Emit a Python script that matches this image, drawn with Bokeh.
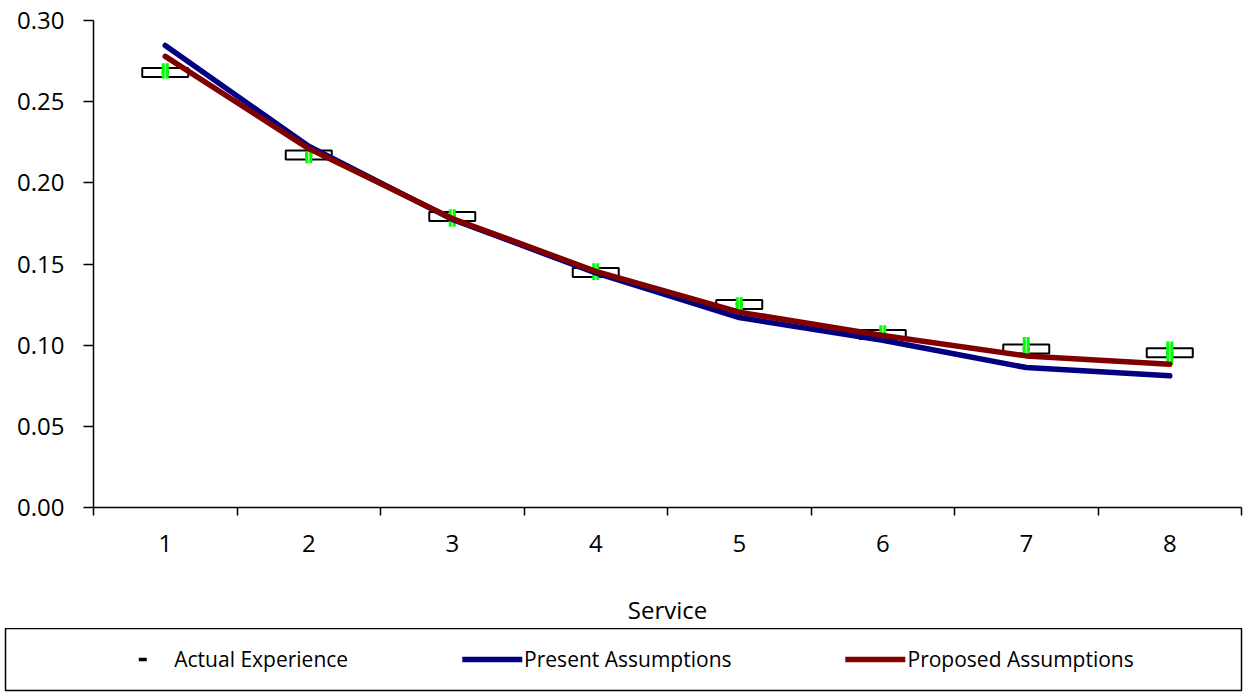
from bokeh.plotting import figure
from bokeh.models import (FixedTicker, NumeralTickFormatter, Range1d, Legend,
                          LegendItem, ColumnDataSource)
from bokeh.embed import file_html
from bokeh.resources import INLINE

# Service year and the three rate series
service = [1, 2, 3, 4, 5, 6, 7, 8]
actual = [0.268, 0.2172, 0.1793, 0.1447, 0.1251, 0.1065, 0.0977, 0.0953]
actual_low = [0.2643, 0.2120, 0.1730, 0.1402, 0.1215, 0.1020, 0.0945, 0.0879]
actual_high = [0.2736, 0.2190, 0.1838, 0.1504, 0.1295, 0.1123, 0.1050, 0.1022]
present = [0.2846, 0.2225, 0.1775, 0.1445, 0.1170, 0.1030, 0.0862, 0.0811]
proposed = [0.2779, 0.2211, 0.1780, 0.1455, 0.1203, 0.1060, 0.0934, 0.0882]
y_ticks = [0.0, 0.05, 0.10, 0.15, 0.20, 0.25, 0.30]

FONT = "Open Sans"
NAVY = "#000080"
MAROON = "#800000"

src = ColumnDataSource(dict(
    x=service,
    actual=actual,
    mid=[(a + b) / 2 for a, b in zip(actual_low, actual_high)],
    span=[b - a for a, b in zip(actual_low, actual_high)],
    present=present,
    proposed=proposed,
))

p = figure(width=1246, height=628, output_backend="svg", toolbar_location=None,
           x_range=Range1d(0.5, 8.5), y_range=Range1d(0, 0.30),
           min_border_left=93, min_border_right=5, min_border_top=20,
           min_border_bottom=120)
p.outline_line_color = None
p.grid.visible = False

# Actual experience: value marker, open box and green range bar
p.scatter(x="x", y="actual", source=src, marker="dash", size=7,
          line_color="black", line_width=3.5)
p.rect(x="x", y="actual", width=46, height=9, width_units="screen",
       height_units="screen", source=src, fill_color=None,
       line_color="black", line_width=2)
p.rect(x="x", y="mid", width=7, height="span", width_units="screen",
       source=src, fill_color="#00ff00", line_color=None)
p.rect(x="x", y="mid", width=1.2, height="span", width_units="screen",
       source=src, fill_color="white", fill_alpha=0.7, line_color=None)

p.line(x="x", y="present", source=src, line_color=NAVY, line_width=5.5,
       line_cap="round", line_join="round")
p.line(x="x", y="proposed", source=src, line_color=MAROON, line_width=5.5,
       line_cap="round", line_join="round")

# Axes
xa = p.xaxis[0]
xa.ticker = FixedTicker(ticks=service,
                        minor_ticks=[s - 0.5 for s in service] + [service[-1] + 0.5])
xa.major_tick_out = 0
xa.major_tick_in = 0
xa.minor_tick_out = 8
xa.minor_tick_in = 0
xa.minor_tick_line_color = "black"
xa.minor_tick_line_width = 1.5
xa.major_label_standoff = 19
xa.axis_label = "Service"
xa.axis_label_standoff = 38
xa.axis_label_text_font = FONT
xa.axis_label_text_font_size = "24px"
xa.axis_label_text_font_style = "normal"
xa.axis_label_text_color = "black"
xa.axis_label_text_align = "right"

ya = p.yaxis[0]
ya.ticker = FixedTicker(ticks=y_ticks)
ya.formatter = NumeralTickFormatter(format="0.00")
ya.major_tick_out = 10
ya.major_tick_in = 0
ya.minor_tick_out = 0
ya.minor_tick_in = 0
ya.major_label_standoff = 19

for ax in (xa, ya):
    ax.axis_line_color = "black"
    ax.axis_line_width = 1.5
    ax.major_tick_line_color = "black"
    ax.major_tick_line_width = 1.5
    ax.major_label_text_font = FONT
    ax.major_label_text_font_size = "24px"
    ax.major_label_text_color = "black"

# Framed legend strip under the chart; its series sit outside its visible range
lg = figure(width=1246, height=64, output_backend="svg", toolbar_location=None,
            x_range=Range1d(0.5, 8.5), y_range=Range1d(1, 2),
            x_axis_location=None, y_axis_location=None,
            min_border_left=5, min_border_right=5, min_border_top=0,
            min_border_bottom=2)
lg.outline_line_color = "black"
lg.outline_line_width = 1.5
lg.grid.visible = False

r_act = lg.scatter(x="x", y="actual", source=src, marker="dash", size=7,
                   line_color="black", line_width=3.5)
r_pre = lg.line(x="x", y="present", source=src, line_color=NAVY, line_width=5.5,
                line_cap="round")
r_pro = lg.line(x="x", y="proposed", source=src, line_color=MAROON,
                line_width=5.5, line_cap="round")

legend = Legend(items=[
    LegendItem(label="Actual Experience", renderers=[r_act]),
    LegendItem(label="Present Assumptions", renderers=[r_pre]),
    LegendItem(label="Proposed Assumptions", renderers=[r_pro]),
], orientation="horizontal", location="center", spacing=114,
    glyph_width=60, glyph_height=20, label_standoff=2, padding=0, margin=0,
    border_line_color=None, background_fill_alpha=0,
    label_text_font=FONT, label_text_font_size="21px", label_text_color="black")
lg.add_layout(legend, "center")

open("out.html", "w").write(file_html([p, lg], INLINE))
